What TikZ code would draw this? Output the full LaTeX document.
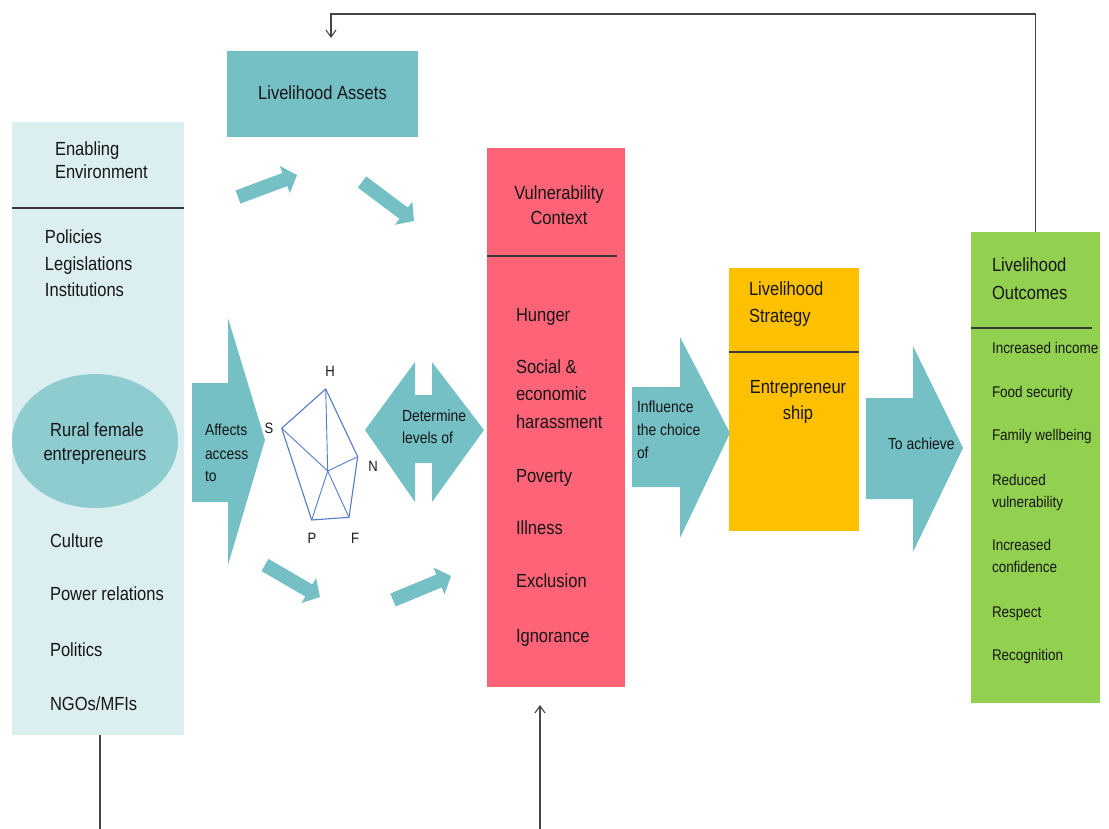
\documentclass[tikz,border=0pt]{standalone}
\usepackage{fontspec}
\setmainfont{Liberation Sans}[FakeStretch=0.87]
\usetikzlibrary{calc,arrows.meta,shapes.geometric}

\definecolor{tealbox}{RGB}{116,192,197}
\definecolor{envbg}{RGB}{219,238,240}
\definecolor{envoval}{RGB}{143,204,208}
\definecolor{vulred}{RGB}{255,99,120}
\definecolor{strat}{RGB}{255,192,0}
\definecolor{outgreen}{RGB}{146,208,80}
\definecolor{inkdark}{RGB}{22,22,22}
\definecolor{spoke}{RGB}{84,124,204}
\definecolor{linkgray}{RGB}{70,70,70}

\tikzset{
  panel/.style={rectangle, inner sep=0pt, outer sep=0pt},
  txt/.style={inner sep=0pt, outer sep=0pt, text=inkdark, anchor=base west,
              font=\fontsize{19}{22}\selectfont},
  ctxt/.style={txt, anchor=base},
  small/.style={txt, font=\fontsize{15.5}{18}\selectfont},
  arrtxt/.style={txt, font=\fontsize{16}{19}\selectfont},
  vtx/.style={inner sep=0pt, text=inkdark, font=\fontsize{15}{17}\selectfont},
  divider/.style={draw=inkdark!85, line width=1.6pt},
  link/.style={draw=linkgray, line width=1.1pt},
  linktip/.style={-{Straight Barb[length=7pt,width=10pt]}},
}

% slanted block arrow from #1 (tail centre) to #2 (tip)
\newcommand\slantarrow[2]{%
  \coordinate (hb) at ($(#2)!13pt!(#1)$);
  \fill[tealbox] ($(#1)!7pt!90:(#2)$) -- ($(hb)!7pt!90:(#2)$)
    -- ($(hb)!14.5pt!90:(#2)$) -- (#2) -- ($(hb)!14.5pt!-90:(#2)$)
    -- ($(hb)!7pt!-90:(#2)$) -- ($(#1)!7pt!-90:(#2)$) -- cycle;
}

\begin{document}
\begin{tikzpicture}[x=1pt,y=-1pt]
\useasboundingbox (0,0) rectangle (1109,829);

% ---------- enabling environment panel ----------
\node[panel, fill=envbg, minimum width=172pt, minimum height=613pt] (env) at (98,428.5) {};
\draw[divider] (12,208) -- (184,208);
\node[txt] (envt1) at (55,156) {Enabling};
\node[txt] (envt2) at (55,179) {Environment};
\node[txt] (pol) at (45,244) {Policies};
\node[txt] (leg) at (45,271) {Legislations};
\node[txt] (ins) at (45,297) {Institutions};
\node[ellipse, fill=envoval, inner sep=0pt, minimum width=166pt, minimum height=134pt] (oval) at (95,441) {};
\node[ctxt] (rf1) at (97,436) {Rural female};
\node[ctxt] (rf2) at (95,460) {entrepreneurs};
\node[txt] (cul) at (50,547) {Culture};
\node[txt] (pow) at (50,600) {Power relations};
\node[txt] (polt) at (50,656) {Politics};
\node[txt] (ngo) at (50,710) {NGOs/MFIs};

% ---------- livelihood assets ----------
\node[panel, fill=tealbox, minimum width=191pt, minimum height=86pt] (assets) at (322.5,94) {};
\node[ctxt] (assetst) at (322.5,100) {Livelihood Assets};

% ---------- vulnerability context ----------
\node[panel, fill=vulred, minimum width=138pt, minimum height=539pt] (vc) at (556,417.5) {};
\draw[divider] (487,256) -- (617,256);
\node[ctxt] (vct1) at (559,200) {Vulnerability};
\node[ctxt] (vct2) at (559,225) {Context};
\node[txt] (v1) at (516,321) {Hunger};
\node[txt] (v2) at (516,373) {Social \&};
\node[txt] (v3) at (516,400) {economic};
\node[txt] (v4) at (516,428) {harassment};
\node[txt] (v5) at (516,482) {Poverty};
\node[txt] (v6) at (516,534) {Illness};
\node[txt] (v7) at (516,587) {Exclusion};
\node[txt] (v8) at (516,642) {Ignorance};

% ---------- livelihood strategy ----------
\node[panel, fill=strat, minimum width=130pt, minimum height=263pt] (strat) at (794,399.5) {};
\draw[divider] (729,352) -- (859,352);
\node[txt] (st1) at (749,296) {Livelihood};
\node[txt] (st2) at (749,323) {Strategy};
\node[ctxt] (st3) at (798,393) {Entrepreneur};
\node[ctxt] (st4) at (798,419) {ship};

% ---------- livelihood outcomes ----------
\node[panel, fill=outgreen, minimum width=129pt, minimum height=471pt] (outc) at (1035.5,467.5) {};
\draw[divider] (971,328) -- (1092,328);
\node[txt] (ot1) at (992,272) {Livelihood};
\node[txt] (ot2) at (992,299) {Outcomes};
\node[small] (o1) at (992,353) {Increased income};
\node[small] (o2) at (992,397) {Food security};
\node[small] (o3) at (992,440) {Family wellbeing};
\node[small] (o4) at (992,485) {Reduced};
\node[small] (o5) at (992,507) {vulnerability};
\node[small] (o6) at (992,550) {Increased};
\node[small] (o7) at (992,572) {confidence};
\node[small] (o8) at (992,617) {Respect};
\node[small] (o9) at (992,660) {Recognition};

% ---------- block arrows ----------
\fill[tealbox] (192,383) -- (228,383) -- (228,318) -- (265,440) -- (228,565)
  -- (228,502) -- (192,502) -- cycle;
\node[arrtxt] (aff1) at (205,435) {Affects};
\node[arrtxt] (aff2) at (205,459) {access};
\node[arrtxt] (aff3) at (205,481) {to};

\fill[tealbox] (365,430) -- (415,362) -- (415,395) -- (432,395) -- (432,362)
  -- (484,430) -- (432,502) -- (432,463) -- (415,463) -- (415,502) -- cycle;
\node[arrtxt] (det1) at (402,421) {Determine};
\node[arrtxt] (det2) at (402,443) {levels of};

\fill[tealbox] (632,387) -- (680,387) -- (680,337) -- (730,433) -- (680,538)
  -- (680,487) -- (632,487) -- cycle;
\node[arrtxt] (inf1) at (637,412) {Influence};
\node[arrtxt] (inf2) at (637,435) {the choice};
\node[arrtxt] (inf3) at (637,458) {of};

\fill[tealbox] (866,398) -- (913,398) -- (913,346) -- (963,448) -- (913,552)
  -- (913,499) -- (866,499) -- cycle;
\node[arrtxt] (ach) at (888,449) {To achieve};

% small slanted arrows around the asset pentagon
\coordinate (a1t) at (238,197); \coordinate (a1h) at (297,175);
\coordinate (a2t) at (362,182); \coordinate (a2h) at (414,221);
\coordinate (a3t) at (265,565); \coordinate (a3h) at (320,597);
\coordinate (a4t) at (393,600); \coordinate (a4h) at (451,576);
\slantarrow{a1t}{a1h}
\slantarrow{a2t}{a2h}
\slantarrow{a3t}{a3h}
\slantarrow{a4t}{a4h}

% ---------- asset pentagon ----------
\coordinate (pS) at (281.7,428.3);
\coordinate (pH) at (325.7,389);
\coordinate (pN) at (357.7,456.7);
\coordinate (pF) at (349,517.3);
\coordinate (pP) at (311.7,520);
\coordinate (pC) at (327.7,471);
\draw[spoke, line width=1.1pt] (pS) -- (pH) -- (pN) -- (pF) -- (pP) -- cycle;
\draw[spoke, line width=0.9pt] (pC) -- (pS) (pC) -- (pH) (pC) -- (pN) (pC) -- (pF) (pC) -- (pP);
\node[vtx] (lH) at (330,371) {H};
\node[vtx] (lS) at (269,428) {S};
\node[vtx] (lN) at (373,466) {N};
\node[vtx] (lP) at (312,538) {P};
\node[vtx] (lF) at (355,538) {F};

% ---------- connectors ----------
\coordinate (fbtop) at (1035.5,14);
\coordinate (fbend) at (331,38);
\draw[link, linktip] (outc.north) -- (outc.north |- fbtop) -- (fbend |- fbtop) -- (fbend);

\coordinate (envout) at (100,829);
\draw[link] (envout |- env.south) -- (envout);

\coordinate (vcin) at (540,829);
\draw[link, linktip, shorten >=18pt] (vcin) -- (vcin |- vc.south);

\end{tikzpicture}
\end{document}
